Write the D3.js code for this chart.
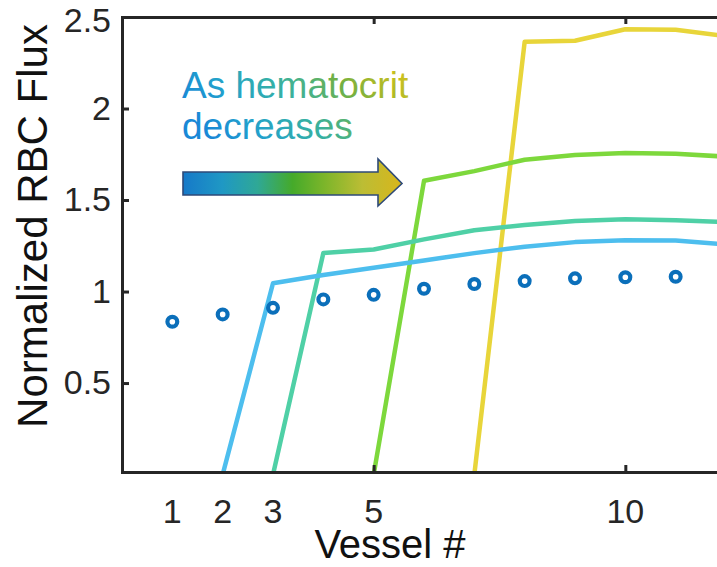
<!DOCTYPE html>
<html>
<head>
<meta charset="utf-8">
<script src="https://cdn.jsdelivr.net/npm/d3@7"></script>
<style>
  html, body { margin: 0; padding: 0; background: #fff; }
  svg { display: block; font-family: Arial, "Liberation Sans", sans-serif; }
</style>
</head>
<body>
<svg id="chart" width="717" height="567"></svg>
<script>
// Vessel index along the network
const vessels = [1, 2, 3, 4, 5, 6, 7, 8, 9, 10, 11, 12];
// Reference flux (circles)
const baseFlux = [0.835, 0.875, 0.911, 0.957, 0.982, 1.015, 1.041, 1.057, 1.072, 1.078, 1.081, 1.08];

// Flux curves for decreasing hematocrit; each starts at zero at its first vessel
const hctVessels1 = [2, 3, 4, 5, 6, 7, 8, 9, 10, 11, 12];
const hctFlux1 = [0, 1.045, 1.09, 1.13, 1.17, 1.21, 1.245, 1.27, 1.28, 1.279, 1.257];
const hctVessels2 = [3, 4, 5, 6, 7, 8, 9, 10, 11, 12];
const hctFlux2 = [0, 1.21, 1.23, 1.285, 1.335, 1.363, 1.385, 1.395, 1.39, 1.379];
const hctVessels3 = [5, 6, 7, 8, 9, 10, 11, 12];
const hctFlux3 = [0, 1.605, 1.658, 1.72, 1.746, 1.757, 1.753, 1.737];
const hctVessels4 = [7, 8, 9, 10, 11, 12];
const hctFlux4 = [0, 2.365, 2.37, 2.433, 2.43, 2.396];

const seriesColors = ["#4dbeee", "#4fd0a6", "#7dd83c", "#e8d53a"];

// Axis ticks and labels
const yTickValues = [0.5, 1, 1.5, 2, 2.5];
const xTickValues = [0, 5, 10];
const xTickLabels = [1, 2, 3, 5, 10];

const svg = d3.select("#chart");

const x = d3.scaleLinear().domain([0, 12]).range([122, 726]);
const y = d3.scaleLinear().domain([0.014, 2.5]).range([472, 17]);

const defs = svg.append("defs");
defs.append("clipPath").attr("id", "plotClip")
  .append("rect")
  .attr("x", x(0)).attr("y", y(2.5))
  .attr("width", x(12) - x(0)).attr("height", y(0.014) - y(2.5));

// Gradient for the annotation arrow
const arrowGrad = defs.append("linearGradient").attr("id", "arrowGrad")
  .attr("x1", "0%").attr("x2", "100%").attr("y1", "0%").attr("y2", "0%");
[["0", "#1679c9"], ["0.18", "#1f98c4"], ["0.34", "#2fa896"], ["0.5", "#45aa2a"],
 ["0.64", "#7ab52a"], ["0.82", "#bcbd34"], ["1", "#d8b61c"]]
  .forEach(([o, c]) => arrowGrad.append("stop").attr("offset", o).attr("stop-color", c));

// Diagonal gradient shared by both annotation lines
const textGrad = defs.append("linearGradient").attr("id", "textGrad")
  .attr("gradientUnits", "userSpaceOnUse")
  .attr("x1", 190).attr("y1", 110).attr("x2", 335).attr("y2", -7);
[["0", "#1a88d6"], ["0.2", "#22a0cc"], ["0.45", "#36b0a4"], ["0.6", "#52b278"],
 ["0.72", "#72b042"], ["0.86", "#a4b82c"], ["1", "#c9c020"]]
  .forEach(([o, c]) => textGrad.append("stop").attr("offset", o).attr("stop-color", c));

const plot = svg.append("g").attr("clip-path", "url(#plotClip)");

const line = d3.line().x(d => x(d[0])).y(d => y(d[1]));

const seriesList = [
  [hctVessels4, hctFlux4, seriesColors[3]],
  [hctVessels3, hctFlux3, seriesColors[2]],
  [hctVessels2, hctFlux2, seriesColors[1]],
  [hctVessels1, hctFlux1, seriesColors[0]]
];
seriesList.forEach(([xs, vs, c]) => {
  plot.append("path")
    .datum(xs.map((v, i) => [v, vs[i]]))
    .attr("d", line)
    .attr("fill", "none")
    .attr("stroke", c)
    .attr("stroke-width", 4.5)
    .attr("stroke-linejoin", "round");
});

plot.selectAll("circle.base")
  .data(vessels.map((v, i) => [v, baseFlux[i]]))
  .join("circle")
  .attr("class", "base")
  .attr("cx", d => x(d[0]))
  .attr("cy", d => y(d[1]))
  .attr("r", 4.9)
  .attr("fill", "none")
  .attr("stroke", "#0b6fba")
  .attr("stroke-width", 4.2);

// Axes (box style, ticks pointing inward)
const axisColor = "#262626";
const gLeft = svg.append("g").attr("transform", `translate(${x(0)},0)`)
  .call(d3.axisLeft(y).tickValues(yTickValues).tickSize(-7).tickPadding(11)
    .tickFormat(d => d3.format("")(d)));
const gBottom = svg.append("g").attr("transform", `translate(0,${y(0.014)})`)
  .call(d3.axisBottom(x).tickValues(xTickValues).tickSize(-7).tickFormat(""));
const gTop = svg.append("g").attr("transform", `translate(0,${y(2.5)})`)
  .call(d3.axisTop(x).tickValues(xTickValues).tickSize(-7).tickFormat(""));

[gLeft, gBottom, gTop].forEach(g => {
  g.select(".domain").attr("stroke", axisColor).attr("stroke-width", 3);
  g.selectAll(".tick line").attr("stroke", axisColor).attr("stroke-width", 3);
});
gLeft.selectAll(".tick text")
  .attr("font-size", 34).attr("fill", "#262626")
  .attr("font-family", "Arial, 'Liberation Sans', sans-serif")
  .attr("dy", d => d === 2.5 ? "0.42em" : "0.32em");

// Vessel number labels
svg.append("g").selectAll("text")
  .data(xTickLabels)
  .join("text")
  .attr("x", d => x(d))
  .attr("y", 523)
  .attr("text-anchor", "middle")
  .attr("font-size", 34)
  .attr("fill", "#262626")
  .text(d => d);

// Axis titles
svg.append("text")
  .attr("x", 390).attr("y", 558)
  .attr("text-anchor", "middle")
  .attr("font-size", 40)
  .attr("fill", "#111")
  .text("Vessel #");

svg.append("text")
  .attr("transform", "translate(47,226) rotate(-90)")
  .attr("text-anchor", "middle")
  .attr("font-size", 42)
  .attr("fill", "#111")
  .text("Normalized RBC Flux");

// Annotation
svg.append("text")
  .attr("x", 182).attr("y", 98)
  .attr("font-size", 37)
  .attr("fill", "url(#textGrad)")
  .text("As hematocrit");
svg.append("text")
  .attr("x", 182).attr("y", 139)
  .attr("font-size", 37)
  .attr("fill", "url(#textGrad)")
  .text("decreases");

const ax0 = 183, ax1 = 378, axTip = 402, ayTop = 172, ayBot = 195, ahTop = 159, ahBot = 206;
const ayMid = (ayTop + ayBot) / 2;
svg.append("path")
  .attr("d", `M${ax0},${ayTop} L${ax1},${ayTop} L${ax1},${ahTop} L${axTip},${ayMid} L${ax1},${ahBot} L${ax1},${ayBot} L${ax0},${ayBot} Z`)
  .attr("fill", "url(#arrowGrad)")
  .attr("stroke", "#2e4a78")
  .attr("stroke-width", 1.6)
  .attr("stroke-linejoin", "miter");
</script>
</body>
</html>
